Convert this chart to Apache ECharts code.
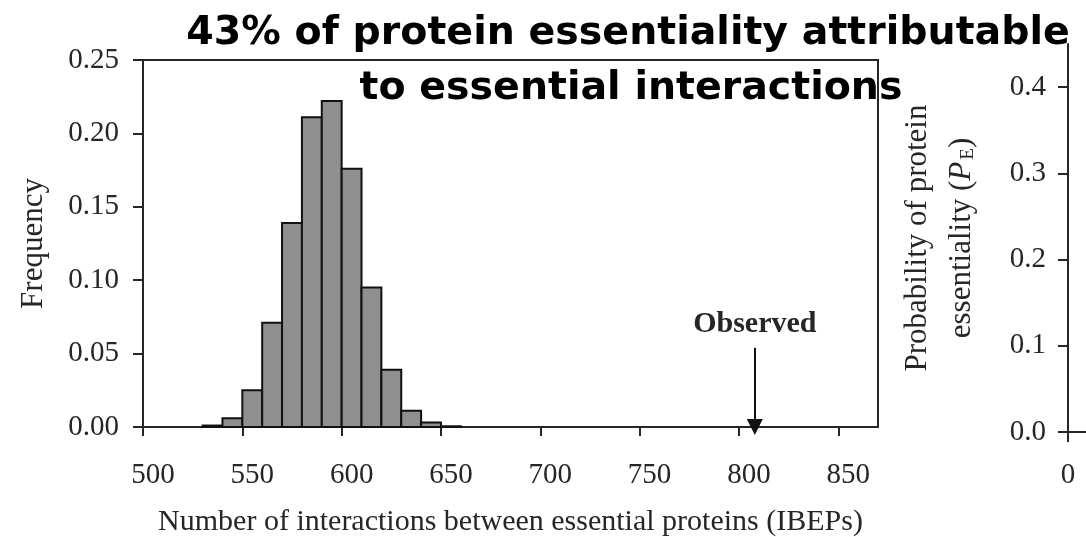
<!DOCTYPE html>
<html>
<head>
<meta charset="utf-8">
<title>IBEP randomisation histogram</title>
<script src="https://cdn.jsdelivr.net/npm/echarts@6/dist/echarts.min.js"></script>
<style>
  html, body { margin: 0; padding: 0; background: #fff; }
  #chart { width: 1086px; height: 537px; }
</style>
</head>
<body>
<div id="chart"></div>
<script>
// Histogram bins: lower / upper edge of each bin (number of IBEPs)
const binLow  = [530, 540, 550, 560, 570, 580, 590, 600, 610, 620, 630, 640, 650];
const binHigh = [540, 550, 560, 570, 580, 590, 600, 610, 620, 630, 640, 650, 660];
// Frequency of randomised networks falling in each bin
const frequency = [0.001, 0.006, 0.025, 0.071, 0.139, 0.211, 0.222, 0.176, 0.095, 0.039, 0.011, 0.003, 0.0005];

// Observed number of interactions between essential proteins
const observedIBEPs = 808;

// Tick labels
const xTicks = [500, 550, 600, 650, 700, 750, 800, 850];
const yTicks = [0, 0.05, 0.10, 0.15, 0.20, 0.25];
const peTicks = [0, 0.1, 0.2, 0.3, 0.4];
const peXTicks = [0];

const titleLines = ['43% of protein essentiality attributable', 'to essential interactions'];

const ink = '#262626';
const serif = '"Liberation Serif", "DejaVu Serif", serif';
const titleFont = '"DejaVu Sans", "Open Sans", sans-serif';

const histData = binLow.map((lo, i) => [lo, binHigh[i], frequency[i]]);

const chart = echarts.init(document.getElementById('chart'), null, { renderer: 'canvas' });

const option = {
  backgroundColor: '#ffffff',
  animation: false,
  grid: [
    { left: 143, right: 208, top: 60, bottom: 110, outerBoundsMode: 'none', containLabel: false,
      show: true, borderColor: ink, borderWidth: 2, backgroundColor: 'transparent' },
    { left: 1068, right: 0, top: 44, bottom: 105, outerBoundsMode: 'none', containLabel: false, show: false }
  ],
  xAxis: [
    {
      gridIndex: 0, type: 'value', min: 500, max: 870, interval: 50,
      name: 'Number of interactions between essential proteins (IBEPs)',
      nameLocation: 'middle', nameGap: 80,
      nameTextStyle: { fontFamily: serif, fontSize: 30, color: ink },
      axisLine: { show: true, onZero: false, lineStyle: { color: ink, width: 2 } },
      axisTick: { show: true, inside: false, length: 9, lineStyle: { color: ink, width: 2 }, customValues: xTicks },
      axisLabel: { fontFamily: serif, fontSize: 29, color: ink, margin: 34, padding: [0, 0, 0, 20], customValues: xTicks },
      splitLine: { show: false }
    },
    {
      gridIndex: 1, type: 'value', min: 0, max: 10,
      axisLine: { show: true, onZero: false, lineStyle: { color: ink, width: 2 } },
      axisTick: { show: true, length: 10, lineStyle: { color: ink, width: 2 }, customValues: peXTicks },
      axisLabel: { fontFamily: serif, fontSize: 29, color: ink, margin: 29, customValues: peXTicks },
      splitLine: { show: false }
    }
  ],
  yAxis: [
    {
      gridIndex: 0, type: 'value', min: 0, max: 0.25, interval: 0.05,
      name: 'Frequency', nameLocation: 'middle', nameGap: 94,
      nameTextStyle: { fontFamily: serif, fontSize: 31, color: ink },
      axisLine: { show: true, lineStyle: { color: ink, width: 2 } },
      axisTick: { show: true, length: 10, lineStyle: { color: ink, width: 2 } },
      axisLabel: { fontFamily: serif, fontSize: 29, color: ink, margin: 24, formatter: v => v.toFixed(2) },
      splitLine: { show: false }
    },
    {
      gridIndex: 1, type: 'value', min: 0, max: 0.45,
      name: 'Probability of protein\nessentiality ({it|P}{sub|E})',
      nameLocation: 'middle', nameGap: 84,
      nameTextStyle: {
        fontFamily: serif, fontSize: 31, color: ink, lineHeight: 44,
        rich: {
          it: { fontFamily: serif, fontSize: 31, fontStyle: 'italic', color: ink },
          sub: { fontFamily: serif, fontSize: 19, color: ink, padding: [12, 0, 0, 2] }
        }
      },
      axisLine: { show: true, lineStyle: { color: ink, width: 2 } },
      axisTick: { show: true, length: 10, lineStyle: { color: ink, width: 2 }, customValues: peTicks },
      axisLabel: { fontFamily: serif, fontSize: 29, color: ink, margin: 22, customValues: peTicks, formatter: v => v.toFixed(1) },
      splitLine: { show: false }
    }
  ],
  series: [
    {
      type: 'custom',
      xAxisIndex: 0, yAxisIndex: 0,
      data: histData,
      renderItem: function (params, api) {
        const p0 = api.coord([api.value(0), api.value(2)]);
        const p1 = api.coord([api.value(1), 0]);
        return {
          type: 'rect',
          shape: { x: p0[0], y: p0[1], width: p1[0] - p0[0], height: p1[1] - p0[1] },
          style: { fill: '#8f8f8f', stroke: '#111111', lineWidth: 2 }
        };
      },
      markLine: {
        silent: true,
        symbol: ['none', 'triangle'],
        symbolSize: [16, 16],
        lineStyle: { color: '#111111', width: 2, type: 'solid' },
        label: {
          show: true, position: 'start', distance: 8,
          formatter: 'Observed',
          fontFamily: serif, fontSize: 30, fontWeight: 'bold', color: ink
        },
        data: [[
          { coord: [observedIBEPs, 0.054] },
          { coord: [observedIBEPs, 0] }
        ]]
      }
    }
  ],
  graphic: [
    {
      type: 'text', x: 628, y: 34, z: 100,
      style: { text: titleLines[0], fontFamily: titleFont, fontWeight: 'bold', fontSize: 39.5, fill: '#000', align: 'center', verticalAlign: 'middle' }
    },
    {
      type: 'text', x: 631, y: 89, z: 100,
      style: { text: titleLines[1], fontFamily: titleFont, fontWeight: 'bold', fontSize: 39.5, fill: '#000', align: 'center', verticalAlign: 'middle' }
    }
  ]
};

chart.setOption(option);
</script>
</body>
</html>
